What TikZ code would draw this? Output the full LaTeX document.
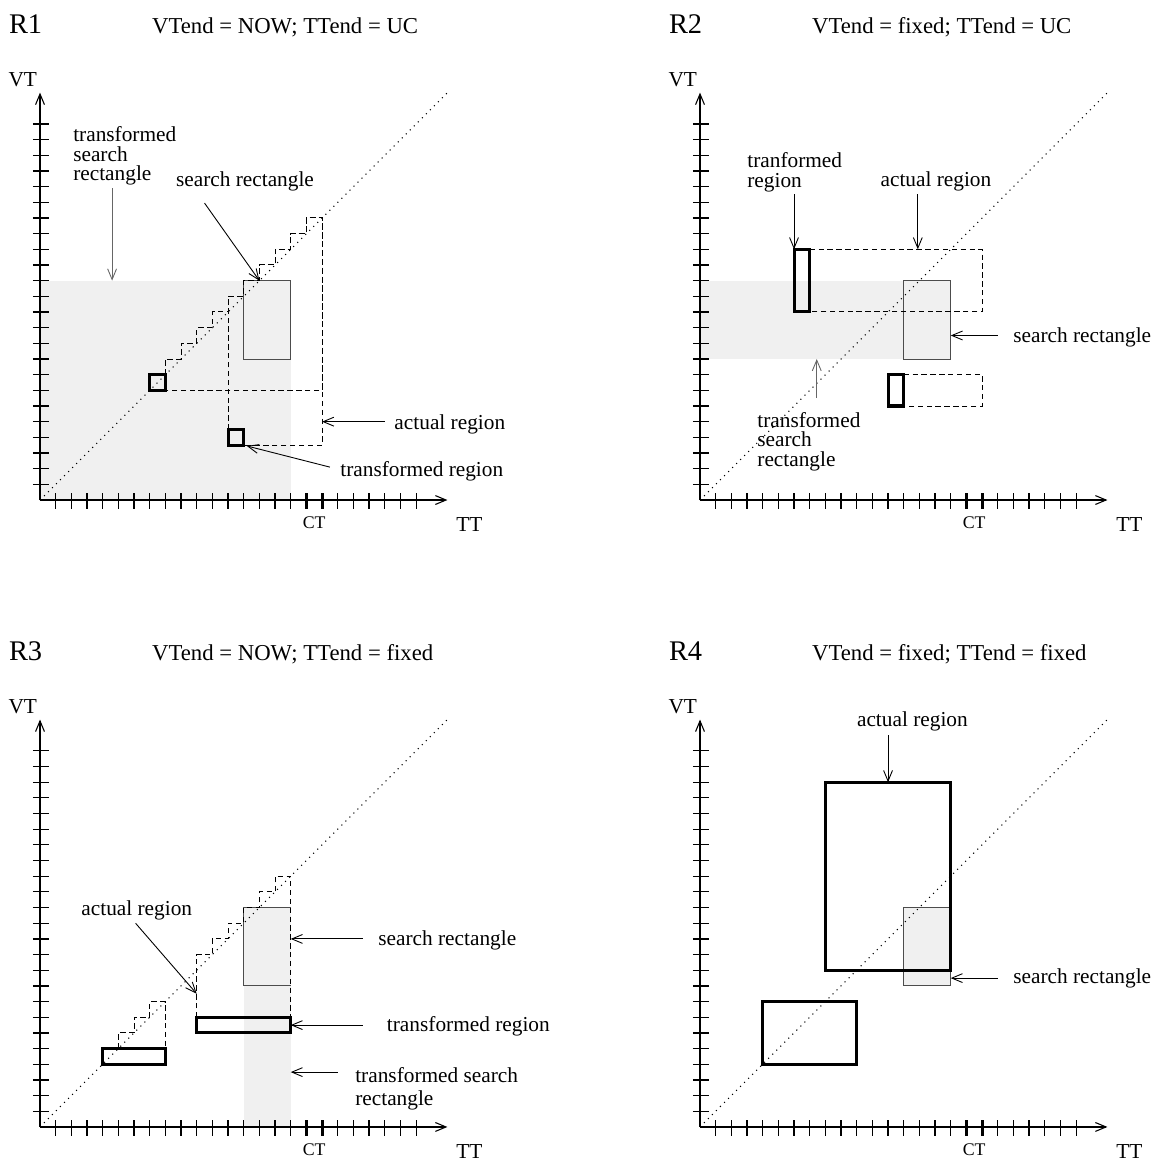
\documentclass[tikz,border=0pt]{standalone}
\usepackage{fontspec}
\setmainfont{Liberation Serif}
\usetikzlibrary{arrows.meta}

% axes, ticks and the diagonal of one panel, #1 = name prefix
\newcommand\panelaxes[1]{%
  \coordinate (#1o) at (0,0);
  \coordinate (#1v) at (0,26);
  \coordinate (#1t) at (26,0);
  \coordinate (#1d) at (26,26);
  \draw[axis] (#1o) -- (#1v);
  \draw[axis] (#1o) -- (#1t);
  \foreach \k in {1,...,24} {
    \draw[tick] (-0.45,\k) -- (0.55,\k);
    \draw[tick] (\k,-0.55) -- (\k,0.45);
  }
  \draw[cttick] (17,-0.55) -- (17,0.45) (18,-0.55) -- (18,0.45);
  \node[axlabel] (#1vt) at (-1.1,26.4) {VT};
  \node[axlabel] (#1tt) at (27.4,-2.04) {TT};
  \node[ctlabel] (#1ct) at (17.5,-1.8) {CT};
  \draw[diag] (#1o) -- (#1d);
}

\begin{document}
\begin{tikzpicture}[x=0.31cm,y=0.31cm,
    axis/.style={line width=0.6pt,-{Straight Barb[length=6pt,width=5pt]}},
    tick/.style={line width=0.65pt},
    cttick/.style={line width=1.7pt},
    diag/.style={line width=0.6pt,dash pattern=on 0.6pt off 2.6pt},
    region/.style={line width=0.55pt,dash pattern=on 3pt off 2pt},
    trans/.style={line width=1.7pt},
    shade/.style={fill=black!6},
    search/.style={draw=black!70,line width=0.5pt,fill=black!6},
    pointer/.style={line width=0.5pt,-{Straight Barb[length=6pt,width=5pt]}},
    lbl/.style={font=\fontsize{12}{11}\selectfont,inner sep=0pt,align=left},
    axlabel/.style={font=\fontsize{12}{14}\selectfont,inner sep=0pt,anchor=base},
    ctlabel/.style={font=\fontsize{10}{12}\selectfont,inner sep=0pt,anchor=base},
    rlabel/.style={font=\fontsize{16}{19}\selectfont,inner sep=0pt,anchor=base west},
    title/.style={font=\fontsize{12.8}{15}\selectfont,inner sep=0pt,anchor=base west}]
  \useasboundingbox (-2.553,-42.31) rectangle (71.54,31.91);

  % R1
  \begin{scope}
    \node[rlabel] (r1) at (-2.0,29.75) {R1};
    \node[title] (r1title) at (7.13,29.75) {VTend = NOW; TTend = UC};
    \fill[shade] (0,0) rectangle (16,14);
    \draw[search] (13,9) rectangle (16,14);
    \panelaxes{r1}
    \draw[region] (8,8) \foreach \k in {8,...,17} { -- (\k,{\k+1}) -- ({\k+1},{\k+1}) } -- (18,7) -- (8,7);
    \draw[region] (12,4.5) -- (12,12) \foreach \k in {12,...,17} { -- (\k,{\k+1}) -- ({\k+1},{\k+1}) } -- (18,3.5) -- (13,3.5);
    \draw[trans] (7,7) rectangle (8,8);
    \draw[trans] (12,3.5) rectangle (13,4.5);
    \node[lbl,anchor=north west] (r1tsr) at (2.1,23.85) {transformed\\search\\rectangle};
    \node[lbl,anchor=base west] (r1sr) at (8.66,20.04) {search rectangle};
    \node[lbl,anchor=base west] (r1ar) at (22.6,4.47) {actual region};
    \node[lbl,anchor=base west] (r1tr) at (19.15,1.47) {transformed region};
    \coordinate (r1p1) at (4.6,19.9);  \coordinate (r1q1) at (4.6,14);
    \coordinate (r1p2) at (10.5,18.95); \coordinate (r1q2) at (14,14);
    \coordinate (r1p3) at (22,5);      \coordinate (r1q3) at (18,5);
    \coordinate (r1p4) at (18.5,2.1);  \coordinate (r1q4) at (13.2,3.45);
    \draw[pointer,black!60] (r1p1) -- (r1q1);
    \draw[pointer] (r1p2) -- (r1q2);
    \draw[pointer] (r1p3) -- (r1q3);
    \draw[pointer] (r1p4) -- (r1q4);
  \end{scope}

  % R2
  \begin{scope}[shift={(42.12,0)}]
    \node[rlabel] (r2) at (-2.0,29.75) {R2};
    \node[title] (r2title) at (7.13,29.75) {VTend = fixed; TTend = UC};
    \fill[shade] (0,9) rectangle (13,14);
    \draw[search] (13,9) rectangle (16,14);
    \panelaxes{r2}
    \draw[region] (7,16) -- (18,16) -- (18,12) -- (7,12);
    \draw[region] (13,8) -- (18,8) -- (18,6) -- (13,6);
    \draw[trans] (6,12) rectangle (7,16);
    \draw[trans] (12,6) rectangle (13,8);
    \node[lbl,anchor=north west] (r2tr) at (3.0,22.2) {tranformed\\region};
    \node[lbl,anchor=base west] (r2ar) at (11.5,20.0) {actual region};
    \node[lbl,anchor=base west] (r2sr) at (19.97,10.04) {search rectangle};
    \node[lbl,anchor=north west] (r2tsr) at (3.64,5.63) {transformed\\search\\rectangle};
    \coordinate (r2p1) at (6,19.5);    \coordinate (r2q1) at (6,16);
    \coordinate (r2p2) at (13.9,19.5); \coordinate (r2q2) at (13.9,16);
    \coordinate (r2p3) at (19,10.5);   \coordinate (r2q3) at (16,10.5);
    \coordinate (r2p4) at (7.45,6.5);  \coordinate (r2q4) at (7.45,9);
    \draw[pointer] (r2p1) -- (r2q1);
    \draw[pointer] (r2p2) -- (r2q2);
    \draw[pointer] (r2p3) -- (r2q3);
    \draw[pointer,black!60] (r2p4) -- (r2q4);
  \end{scope}

  % R3
  \begin{scope}[shift={(0,-40.01)}]
    \node[rlabel] (r3) at (-2.0,29.75) {R3};
    \node[title] (r3title) at (7.13,29.75) {VTend = NOW; TTend = fixed};
    \fill[shade] (13,0) rectangle (16,14);
    \draw[draw=black!70,line width=0.5pt] (16,9) -- (13,9) -- (13,14) -- (16,14);
    \panelaxes{r3}
    \draw[region] (5,5) \foreach \k in {5,...,7} { -- (\k,{\k+1}) -- ({\k+1},{\k+1}) } -- (8,5);
    \draw[region] (10,7) -- (10,10) \foreach \k in {10,...,15} { -- (\k,{\k+1}) -- ({\k+1},{\k+1}) } -- (16,7);
    \draw[trans] (4,4) rectangle (8,5);
    \draw[trans] (10,6) rectangle (16,7);
    \node[lbl,anchor=base west] (r3ar) at (2.62,13.47) {actual region};
    \node[lbl,anchor=base west] (r3sr) at (21.57,11.55) {search rectangle};
    \node[lbl,anchor=base west] (r3tr) at (22.12,6.08) {transformed region};
    \node[lbl,anchor=north west] (r3tsr) at (20.1,3.85) {transformed search\\[2.3pt]rectangle};
    \coordinate (r3p1) at (6.1,13);    \coordinate (r3q1) at (10,8.5);
    \coordinate (r3p2) at (20.6,12);   \coordinate (r3q2) at (16,12);
    \coordinate (r3p3) at (20.6,6.5);  \coordinate (r3q3) at (16,6.5);
    \coordinate (r3p4) at (19,3.5);    \coordinate (r3q4) at (16,3.5);
    \draw[pointer] (r3p1) -- (r3q1);
    \draw[pointer] (r3p2) -- (r3q2);
    \draw[pointer] (r3p3) -- (r3q3);
    \draw[pointer] (r3p4) -- (r3q4);
  \end{scope}

  % R4
  \begin{scope}[shift={(42.12,-40.01)}]
    \node[rlabel] (r4) at (-2.0,29.75) {R4};
    \node[title] (r4title) at (7.13,29.75) {VTend = fixed; TTend = fixed};
    \draw[search] (13,9) rectangle (16,14);
    \panelaxes{r4}
    \draw[trans] (8,10) rectangle (16,22);
    \draw[trans] (4,4) rectangle (10,8);
    \node[lbl,anchor=base west] (r4ar) at (10.0,25.55) {actual region};
    \node[lbl,anchor=base west] (r4sr) at (19.97,9.13) {search rectangle};
    \coordinate (r4p1) at (12,25);     \coordinate (r4q1) at (12,22);
    \coordinate (r4p2) at (19,9.5);    \coordinate (r4q2) at (16,9.5);
    \draw[pointer] (r4p1) -- (r4q1);
    \draw[pointer] (r4p2) -- (r4q2);
  \end{scope}
\end{tikzpicture}
\end{document}
